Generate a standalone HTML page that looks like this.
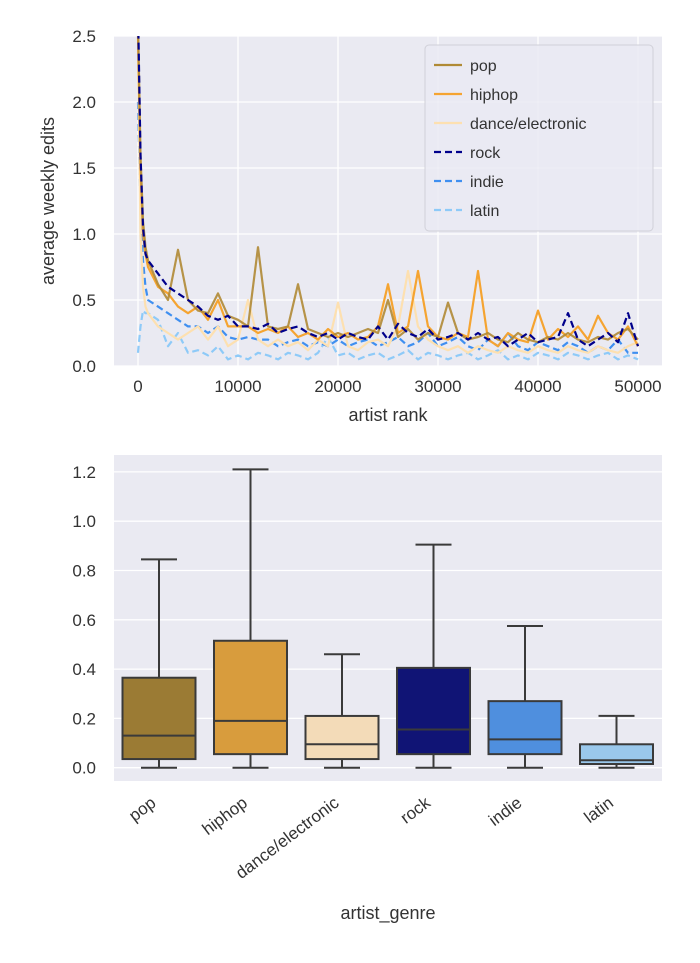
<!DOCTYPE html>
<html><head><meta charset="utf-8"><style>
body{margin:0;background:#fff;}
svg text{font-family:"Liberation Sans",sans-serif;fill:#333;}
</style></head><body>
<svg id="s" width="700" height="958" xmlns="http://www.w3.org/2000/svg">
<defs><clipPath id="cp"><rect x="114" y="36" width="548" height="330"/></clipPath></defs>
<g id="topChart"></g>
<g id="botChart"></g>
</svg>
<script>
const ranks=[0,250,500,750,1000,2000,3000,4000,5000,6000,7000,8000,9000,10000,11000,12000,13000,14000,15000,16000,17000,18000,19000,20000,21000,22000,23000,24000,25000,26000,27000,28000,29000,30000,31000,32000,33000,34000,35000,36000,37000,38000,39000,40000,41000,42000,43000,44000,45000,46000,47000,48000,49000,50000];
const popVals=[2.6,1.6,1.1,0.9,0.8,0.62,0.5,0.88,0.5,0.42,0.4,0.55,0.38,0.35,0.3,0.9,0.3,0.28,0.3,0.62,0.28,0.25,0.22,0.25,0.22,0.25,0.28,0.25,0.5,0.22,0.28,0.2,0.25,0.22,0.48,0.25,0.2,0.22,0.25,0.2,0.18,0.25,0.2,0.18,0.22,0.2,0.25,0.2,0.18,0.22,0.2,0.25,0.28,0.2];
const hiphopVals=[2.5,1.5,1.0,0.85,0.75,0.6,0.55,0.45,0.4,0.45,0.35,0.5,0.3,0.3,0.3,0.25,0.28,0.25,0.3,0.22,0.25,0.2,0.28,0.22,0.25,0.2,0.22,0.3,0.62,0.25,0.3,0.72,0.3,0.22,0.2,0.25,0.22,0.72,0.2,0.15,0.25,0.2,0.18,0.42,0.2,0.28,0.22,0.3,0.2,0.38,0.25,0.2,0.3,0.15];
const danceVals=[2.4,1.0,0.6,0.45,0.4,0.3,0.25,0.2,0.25,0.3,0.2,0.3,0.15,0.2,0.5,0.2,0.15,0.2,0.15,0.18,0.12,0.2,0.15,0.48,0.15,0.12,0.18,0.2,0.15,0.3,0.72,0.3,0.2,0.15,0.12,0.15,0.1,0.15,0.12,0.1,0.15,0.12,0.1,0.15,0.12,0.1,0.15,0.12,0.1,0.15,0.12,0.1,0.15,0.18];
const rockVals=[2.7,1.6,1.05,0.85,0.8,0.7,0.6,0.55,0.5,0.45,0.38,0.35,0.38,0.3,0.3,0.28,0.32,0.25,0.28,0.3,0.25,0.22,0.25,0.2,0.25,0.22,0.2,0.3,0.2,0.32,0.25,0.22,0.28,0.2,0.22,0.25,0.2,0.25,0.2,0.22,0.15,0.2,0.25,0.18,0.2,0.22,0.4,0.2,0.15,0.2,0.25,0.18,0.4,0.15];
const indieVals=[2.0,1.2,0.8,0.6,0.5,0.45,0.4,0.35,0.3,0.3,0.25,0.3,0.22,0.2,0.22,0.2,0.2,0.15,0.18,0.2,0.15,0.18,0.15,0.2,0.15,0.18,0.2,0.15,0.18,0.22,0.15,0.18,0.25,0.15,0.18,0.22,0.15,0.12,0.2,0.15,0.25,0.15,0.12,0.18,0.15,0.12,0.18,0.15,0.1,0.15,0.12,0.2,0.1,0.1];
const latinVals=[0.1,0.3,0.42,0.4,0.4,0.35,0.15,0.25,0.1,0.12,0.08,0.15,0.05,0.08,0.05,0.1,0.08,0.05,0.1,0.08,0.05,0.1,0.22,0.08,0.1,0.05,0.08,0.1,0.05,0.08,0.12,0.05,0.1,0.08,0.05,0.08,0.1,0.05,0.08,0.12,0.05,0.08,0.05,0.1,0.08,0.05,0.1,0.08,0.05,0.08,0.1,0.05,0.08,0.05];
const seriesNames=["pop","hiphop","dance/electronic","rock","indie","latin"];
const xTicks=[0,10000,20000,30000,40000,50000];
const yTicksTop=[0,0.5,1,1.5,2,2.5];
const genres=["pop","hiphop","dance/electronic","rock","indie","latin"];
const whiskLo=[0,0,0,0,0,0];
const q1=[0.035,0.055,0.035,0.055,0.055,0.015];
const med=[0.13,0.19,0.095,0.155,0.115,0.03];
const q3=[0.365,0.515,0.21,0.405,0.27,0.095];
const whiskHi=[0.845,1.21,0.46,0.905,0.575,0.21];
const yTicksBot=[0,0.2,0.4,0.6,0.8,1.0,1.2];

const NS="http://www.w3.org/2000/svg";
function mk(tag,attrs,parent,txt){const e=document.createElementNS(NS,tag);for(const k in attrs)e.setAttribute(k,attrs[k]);if(txt!==undefined)e.textContent=txt;parent.appendChild(e);return e;}
const topG=document.getElementById('topChart');
const xs=v=>138+v/10000*100, ys=v=>366-v/2.5*330;
let bg=mk('rect',{x:114,y:36,width:548,height:330,fill:'#eaeaf2'},topG);


xTicks.forEach(t=>{let l=mk('line',{x1:xs(t),x2:xs(t),y1:36,y2:366,stroke:'#fff','stroke-width':1.3},topG);


let tx=mk('text',{x:xs(t),y:392,'text-anchor':'middle','font-size':17},topG,String(t));

});
yTicksTop.forEach(t=>{let l=mk('line',{x1:114,x2:662,y1:ys(t),y2:ys(t),stroke:'#fff','stroke-width':1.3},topG);


let tx=mk('text',{x:96,y:ys(t)+6,'text-anchor':'end','font-size':17},topG,t.toFixed(1));

});
const sers=[popVals,hiphopVals,danceVals,rockVals,indieVals,latinVals];
const cols=['#b08a35','#f5a431','#fde0b0','#00008b','#3f8ff0','#8ecaf8'];
const dash=['','','','7,4','7,4','7,4'];
const order=[5,4,2,1,0,3];
const lg=mk('g',{'clip-path':'url(#cp)'},topG);
order.forEach(i=>{let d=ranks.map((r,j)=>(j?'L':'M')+xs(r).toFixed(1)+','+ys(sers[i][j]).toFixed(1)).join('');
let p=mk('path',{d:d,fill:'none',stroke:cols[i],'stroke-width':2.2,'stroke-dasharray':dash[i],'stroke-linejoin':'round',opacity:i==0?0.9:1},lg);

});
let t1=mk('text',{x:388,y:421,'text-anchor':'middle','font-size':18},topG,'artist rank');


let t2=mk('text',{x:54,y:201,'text-anchor':'middle','font-size':18,transform:'rotate(-90 54 201)'},topG,'average weekly edits');


let leg=mk('g',{},topG);


mk('rect',{x:425,y:45,width:228,height:186,rx:4,fill:'#eaeaf2','fill-opacity':0.8,stroke:'#d0d0d8'},leg);
seriesNames.forEach((n,i)=>{const y=65+i*29;
let e=mk('g',{},leg);


mk('line',{x1:434,x2:462,y1:y,y2:y,stroke:cols[i],'stroke-width':2.2,'stroke-dasharray':dash[i]},e);
mk('text',{x:470,y:y+6,'font-size':16},e,n);});
const botG=document.getElementById('botChart');
const yb=v=>767.7-v/0.2*49.3, xc=i=>159+i*91.5;
let bg2=mk('rect',{x:114,y:455,width:548,height:326,fill:'#eaeaf2'},botG);


yTicksBot.forEach(t=>{let l=mk('line',{x1:114,x2:662,y1:yb(t),y2:yb(t),stroke:'#fff','stroke-width':1.3},botG);


let tx=mk('text',{x:96,y:yb(t)+6,'text-anchor':'end','font-size':17},botG,t.toFixed(1));

});
const bcols=['#9b7b34','#d89c3d','#f3dbb8','#101475','#4f8fde','#9ac8ec'];
genres.forEach((g,i)=>{const c=xc(i),w=73;
let grp=mk('g',{stroke:'#3a3a3a','stroke-width':2},botG);


mk('line',{x1:c,x2:c,y1:yb(whiskHi[i]),y2:yb(q3[i])},grp);
mk('line',{x1:c,x2:c,y1:yb(q1[i]),y2:yb(whiskLo[i])},grp);
mk('line',{x1:c-18,x2:c+18,y1:yb(whiskHi[i]),y2:yb(whiskHi[i])},grp);
mk('line',{x1:c-18,x2:c+18,y1:yb(whiskLo[i]),y2:yb(whiskLo[i])},grp);
mk('rect',{x:c-w/2,y:yb(q3[i]),width:w,height:yb(q1[i])-yb(q3[i]),fill:bcols[i]},grp);
mk('line',{x1:c-w/2,x2:c+w/2,y1:yb(med[i]),y2:yb(med[i])},grp);
const ax=c-2, ay=805;
let tx=mk('text',{x:ax,y:ay,'text-anchor':'end','font-size':17,transform:'rotate(-37 '+ax+' '+ay+')'},botG,g);

});
let t3=mk('text',{x:388,y:919,'text-anchor':'middle','font-size':18},botG,'artist_genre');


</script>
</body></html>
